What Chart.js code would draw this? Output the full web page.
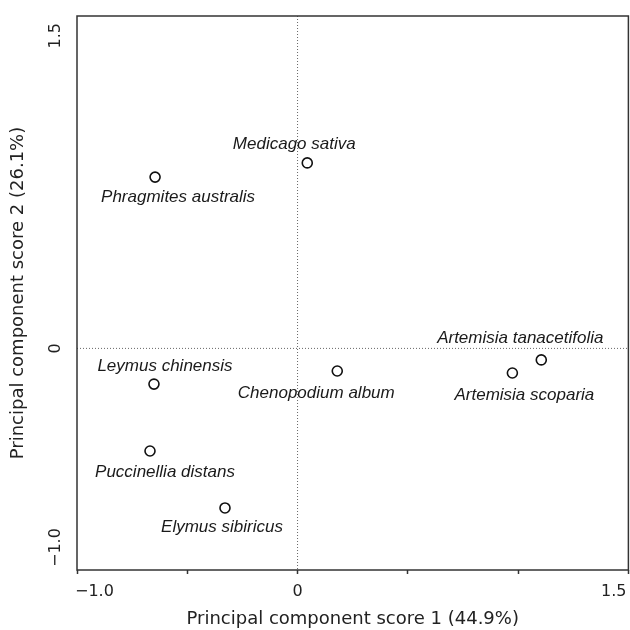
<!DOCTYPE html>
<html>
<head>
<meta charset="utf-8">
<script src="https://cdn.jsdelivr.net/npm/chart.js@4/dist/chart.umd.min.js"></script>
<style>
  html, body { margin: 0; padding: 0; background: #fff; overflow: hidden; }
  #wrap { width: 630px; height: 630px; overflow: hidden; }
  canvas { display: block; }
</style>
</head>
<body>
<div id="wrap"><canvas id="myChart" width="635" height="630"></canvas></div>
<script>
// species and their PCA scores
const species = ['Medicago sativa', 'Phragmites australis', 'Leymus chinensis', 'Chenopodium album',
  'Puccinellia distans', 'Elymus sibiricus', 'Artemisia tanacetifolia', 'Artemisia scoparia'];
const score1 = [0.044, -0.646, -0.651, 0.180, -0.669, -0.329, 1.105, 0.974];
const score2 = [0.837, 0.773, -0.161, -0.102, -0.463, -0.720, -0.052, -0.111];

const xTickLabels = [-1.0, 0, 1.5];
const yTickLabels = [-1.0, 0, 1.5];

// where each name sits relative to its point (px)
const labelShift = [[-13, -19], [23, 20], [11, -18], [-21, 22], [15, 21], [-3, 19], [-21, -22], [12, 22]];

const axisFont = '"DejaVu Sans", sans-serif';

function fmt(v) {
  if (Math.abs(v) < 1e-9) return '0';
  return (v < 0 ? '\u2212' : '') + Math.abs(v).toFixed(1);
}

const pcaDecor = {
  id: 'pcaDecor',
  beforeDatasetsDraw(chart) {
    const { ctx, chartArea: a, scales: { x, y } } = chart;
    ctx.save();
    ctx.strokeStyle = '#666';
    ctx.lineWidth = 1;
    ctx.setLineDash([1, 2]);
    const x0 = x.getPixelForValue(0), y0 = y.getPixelForValue(0);
    ctx.beginPath();
    ctx.moveTo(x0, a.top); ctx.lineTo(x0, a.bottom);
    ctx.moveTo(a.left, y0); ctx.lineTo(a.right, y0);
    ctx.stroke();
    ctx.restore();
  },
  afterDatasetsDraw(chart) {
    const { ctx, chartArea: a, scales: { x, y } } = chart;
    ctx.save();
    // species names
    ctx.font = 'italic 17px "Liberation Sans", Arial, sans-serif';
    ctx.fillStyle = '#1a1a1a';
    ctx.textAlign = 'center';
    ctx.textBaseline = 'middle';
    species.forEach((s, i) => {
      ctx.fillText(s, x.getPixelForValue(score1[i]) + labelShift[i][0],
        y.getPixelForValue(score2[i]) + labelShift[i][1]);
    });
    // frame
    ctx.strokeStyle = '#333';
    ctx.lineWidth = 1.5;
    ctx.strokeRect(a.left, a.top, a.right - a.left, a.bottom - a.top);
    // x tick labels
    ctx.font = '16px ' + axisFont;
    ctx.fillStyle = '#222';
    xTickLabels.forEach((v, i) => {
      let px = x.getPixelForValue(v);
      if (i === 0) { ctx.textAlign = 'left'; px -= 2; }
      else if (i === xTickLabels.length - 1) { ctx.textAlign = 'right'; px -= 2; }
      else ctx.textAlign = 'center';
      ctx.fillText(fmt(v), px, a.bottom + 22);
    });
    // y tick labels, rotated
    yTickLabels.forEach((v, i) => {
      let py = y.getPixelForValue(v);
      ctx.save();
      ctx.translate(56, py);
      ctx.rotate(-Math.PI / 2);
      if (i === 0) { ctx.textAlign = 'left'; ctx.translate(3, 0); }
      else if (i === yTickLabels.length - 1) { ctx.textAlign = 'right'; ctx.translate(-7, 0); }
      else ctx.textAlign = 'center';
      ctx.fillText(fmt(v), 0, 0);
      ctx.restore();
    });
    // y title
    ctx.font = '18px ' + axisFont;
    ctx.save();
    ctx.translate(18, (a.top + a.bottom) / 2);
    ctx.rotate(-Math.PI / 2);
    ctx.textAlign = 'center';
    ctx.fillText('Principal component score 2 (26.1%)', 0, 0);
    ctx.restore();
    ctx.restore();
  }
};

const ctx = document.getElementById('myChart').getContext('2d');
const chart = new Chart(ctx, {
  type: 'scatter',
  data: {
    datasets: [{
      data: score1.map((v, i) => ({ x: v, y: score2[i] })),
      pointRadius: 5,
      pointHoverRadius: 5,
      borderWidth: 1.6,
      borderColor: '#111',
      backgroundColor: '#fff'
    }]
  },
  options: {
    responsive: false,
    animation: false,
    layout: { padding: { left: 77, top: 16, right: 0, bottom: 0 } },
    plugins: { legend: { display: false }, tooltip: { enabled: false } },
    scales: {
      x: {
        type: 'linear',
        min: -1.0, max: 1.5,
        afterFit(scale) { scale.height = 60; },
        border: { display: false },
        grid: { drawOnChartArea: false, drawTicks: true, tickLength: 4, tickColor: '#333', tickWidth: 1.5 },
        ticks: { display: false, stepSize: 0.5 },
        title: {
          display: true,
          text: 'Principal component score 1 (44.9%)',
          color: '#222',
          font: { family: axisFont, size: 18 },
          padding: { top: 0, bottom: 0 }
        }
      },
      y: {
        type: 'linear',
        min: -1.0, max: 1.5,
        display: false
      }
    }
  },
  plugins: [pcaDecor]
});
</script>
</body>
</html>
